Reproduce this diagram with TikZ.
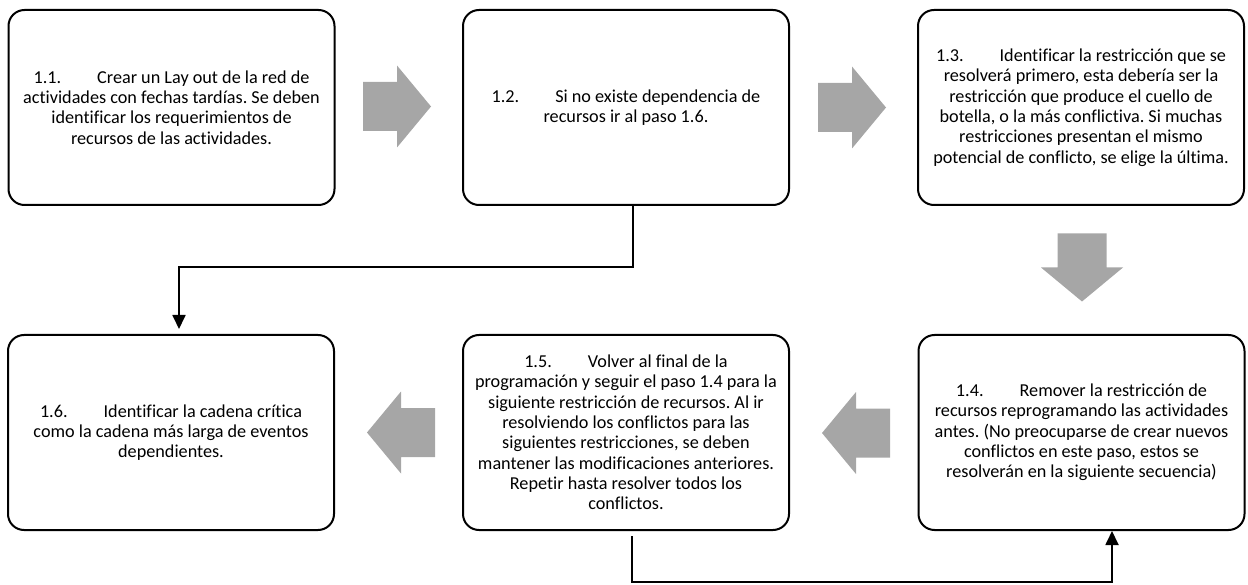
\documentclass[tikz,border=0pt]{standalone}
\usepackage{fontspec}
\setmainfont{Carlito}[Ligatures=NoCommon]
\usetikzlibrary{arrows.meta}
\definecolor{arrowgray}{HTML}{A6A6A6}
\tikzset{
  stepbox/.style={draw=black, line width=2pt, rounded corners=16pt,
    minimum width=326pt, minimum height=195pt, align=center,
    font=\fontsize{18.2pt}{20.3pt}\selectfont, inner sep=0pt},
  link/.style={line width=1.8pt, -{Triangle[width=13pt,length=14pt]}},
  fatarrow/.pic={
    \fill[arrowgray] (-34,-24.5) -- (0,-24.5) -- (0,-41) -- (34,0)
      -- (0,41) -- (0,24.5) -- (-34,24.5) -- cycle;
  },
}
\newcommand{\num}[1]{#1\hspace{36pt}}
\frenchspacing
\begin{document}
\begin{tikzpicture}[x=1pt,y=1pt]
\useasboundingbox (0,0) rectangle (1248,-585);

% top row
\node[stepbox] (n11) at (171.5,-107.5)
  {\num{1.1.}Crear un Lay out de la red de\\
   actividades con fechas tardías. Se deben\\
   identificar los requerimientos de\\
   recursos de las actividades.};
\node[stepbox] (n12) at (626,-107.5)
  {\num{1.2.}Si no existe dependencia de\\
   recursos ir al paso 1.6.};
\node[stepbox] (n13) at (1081,-107.5)
  {\num{1.3.}Identificar la restricción que se\\
   resolverá primero, esta debería ser la\\
   restricción que produce el cuello de\\
   botella, o la más conflictiva. Si muchas\\
   restricciones presentan el mismo\\
   potencial de conflicto, se elige la última.};

% bottom row
\node[stepbox] (n16) at (171,-432.5)
  {\num{1.6.}Identificar la cadena crítica\\
   como la cadena más larga de eventos\\
   dependientes.};
\node[stepbox] (n15) at (626,-432.5)
  {\num{1.5.}Volver al final de la\\
   programación y seguir el paso 1.4 para la\\
   siguiente restricción de recursos. Al ir\\
   resolviendo los conflictos para las\\
   siguientes restricciones, se deben\\
   mantener las modificaciones anteriores.\\
   Repetir hasta resolver todos los\\
   conflictos.};
\node[stepbox] (n14) at (1081.5,-432.5)
  {\num{1.4.}Remover la restricción de\\
   recursos reprogramando las actividades\\
   antes. (No preocuparse de crear nuevos\\
   conflictos en este paso, estos se\\
   resolverán en la siguiente secuencia)};

% flow arrows
\pic at (397,-106.5) {fatarrow};
\pic at (852,-107.5) {fatarrow};
\pic[rotate=-90] at (1082,-267.5) {fatarrow};
\pic[rotate=180] at (856,-433) {fatarrow};
\pic[rotate=180] at (401,-432.5) {fatarrow};

% connectors
\coordinate (c1) at (633,-267);
\coordinate (c2) at (179,-267);
\draw[link, shorten >=5pt] ([xshift=7pt]n12.south) -- (c1) -- (c2)
  -- ([xshift=8pt]n16.north);
\coordinate (c3) at (632,-582);
\coordinate (c4) at (1112,-582);
\draw[link] ([xshift=6pt,yshift=-5pt]n15.south) -- (c3) -- (c4)
  -- ([xshift=30.5pt]n14.south);
\end{tikzpicture}
\end{document}
